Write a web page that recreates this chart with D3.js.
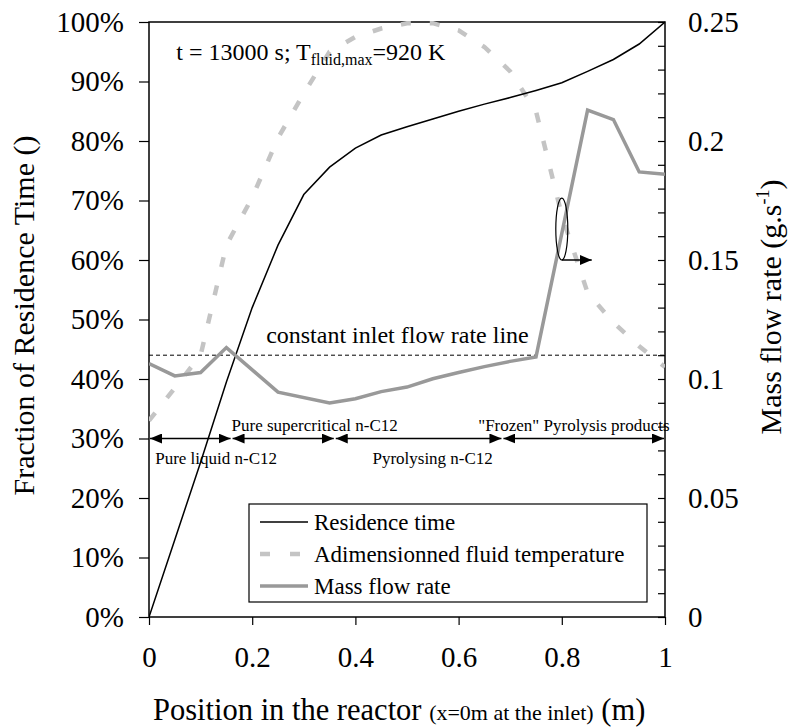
<!DOCTYPE html>
<html>
<head>
<meta charset="utf-8">
<script src="https://cdn.jsdelivr.net/npm/d3@7"></script>
<style>
  body { margin: 0; background: #fff; }
  svg text { font-family: "Liberation Serif", "Times New Roman", serif; fill: #000; }
</style>
</head>
<body>
<svg id="chart" width="795" height="727"></svg>
<script>
// position along the reactor (m)
const positions = [0, 0.05, 0.1, 0.15, 0.2, 0.25, 0.3, 0.35, 0.4, 0.45, 0.5,
                   0.55, 0.6, 0.65, 0.7, 0.75, 0.8, 0.85, 0.9, 0.95, 1];
// fraction of residence time (left axis)
const residenceTime = [0, 0.13, 0.26, 0.395, 0.52, 0.625, 0.71, 0.756, 0.788, 0.81, 0.824,
                       0.837, 0.85, 0.862, 0.873, 0.885, 0.898, 0.917, 0.937, 0.963, 1];
// adimensionned fluid temperature (left axis)
const fluidTemp = [0.33, 0.385, 0.44, 0.625, 0.705, 0.805, 0.88, 0.95, 0.975, 0.989, 0.998,
                   0.998, 0.986, 0.958, 0.917, 0.85, 0.675, 0.545, 0.495, 0.455, 0.42];
// mass flow rate (right axis, g/s)
const flowPositions = [0, 0.05, 0.1, 0.15, 0.25, 0.35, 0.4, 0.45, 0.5, 0.55, 0.6,
                       0.65, 0.7, 0.75, 0.85, 0.9, 0.95, 1];
const massFlow = [0.1065, 0.1013, 0.1027, 0.1132, 0.0945, 0.0899, 0.0917, 0.0947, 0.0966, 0.1001, 0.1027,
                  0.1052, 0.1074, 0.1093, 0.213, 0.209, 0.187, 0.186];
const inletFlow = 0.11;

// regions along the reactor
const regionBounds = [0, 0.16, 0.36, 0.685, 1];
const regionLabels = ["Pure liquid n-C12", "Pure supercritical n-C12", "Pyrolysing n-C12", "\"Frozen\" Pyrolysis products"];
const regionLabelX = [0.012, 0.16, 0.433, 0.638];
const regionLabelAbove = [false, true, false, true];

const xTicks = [0, 0.2, 0.4, 0.6, 0.8, 1];
const leftTicks = [0, 0.1, 0.2, 0.3, 0.4, 0.5, 0.6, 0.7, 0.8, 0.9, 1];
const rightTicks = d3.range(0, 26).map(i => i / 100);

const legendItems = ["Residence time", "Adimensionned fluid temperature", "Mass flow rate"];

const margin = {left: 149, right: 130, top: 22, bottom: 110};
const W = 795, H = 727;

const svg = d3.select("#chart");
const x = d3.scaleLinear().domain([0, 1]).range([margin.left, W - margin.right]);
const yL = d3.scaleLinear().domain([0, 1]).range([H - margin.bottom, margin.top]);
const yR = d3.scaleLinear().domain([0, 0.25]).range([H - margin.bottom, margin.top]);

// arrow head marker
const defs = svg.append("defs");
defs.append("marker")
  .attr("id", "head")
  .attr("viewBox", "0 0 12 10")
  .attr("refX", 12).attr("refY", 5)
  .attr("markerWidth", 12).attr("markerHeight", 10)
  .attr("markerUnits", "userSpaceOnUse")
  .attr("orient", "auto-start-reverse")
  .append("path").attr("d", "M0,0 L12,5 L0,10 Z").attr("fill", "#000");

defs.append("clipPath").attr("id", "plotclip")
  .append("rect")
  .attr("x", x(0)).attr("y", yL(1) - 3)
  .attr("width", x(1) - x(0)).attr("height", yL(0) - yL(1) + 3);

// axes
const leftAxis = svg.append("g")
  .attr("transform", `translate(${x(0)},0)`)
  .call(d3.axisLeft(yL).tickValues(leftTicks).tickFormat(d3.format(".0%")).tickSize(10).tickPadding(15));
const rightAxis = svg.append("g")
  .attr("transform", `translate(${x(1)},0)`)
  .call(d3.axisRight(yR).tickValues(rightTicks).tickSize(-7).tickPadding(23)
    .tickFormat(d => Math.round(d * 100) % 5 === 0 ? String(+d.toFixed(2)) : ""));
const bottomAxis = svg.append("g")
  .attr("transform", `translate(0,${yL(0)})`)
  .call(d3.axisBottom(x).tickValues(xTicks).tickFormat(d3.format("~g")).tickSize(8).tickPadding(21));

[leftAxis, rightAxis, bottomAxis].forEach(g => {
  g.select(".domain").remove();
  g.selectAll("line").attr("stroke", "#000").attr("stroke-width", 1.2);
  g.selectAll("text").attr("font-size", 29).attr("font-family", "Liberation Serif");
});

// frame
svg.append("rect")
  .attr("x", x(0)).attr("y", yL(1))
  .attr("width", x(1) - x(0)).attr("height", yL(0) - yL(1))
  .attr("fill", "none").attr("stroke", "#000").attr("stroke-width", 1.5);

const plot = svg.append("g").attr("clip-path", "url(#plotclip)");

// constant inlet flow rate line
plot.append("line")
  .attr("x1", x(0)).attr("x2", x(1))
  .attr("y1", yR(inletFlow)).attr("y2", yR(inletFlow))
  .attr("stroke", "#000").attr("stroke-width", 1).attr("stroke-dasharray", "4,3");

const lineL = (xs, ys) => d3.line().x((d, i) => x(xs[i])).y(d => yL(d))(ys);
const lineR = (xs, ys) => d3.line().x((d, i) => x(xs[i])).y(d => yR(d))(ys);

plot.append("path")
  .attr("d", lineL(positions, fluidTemp))
  .attr("fill", "none").attr("stroke", "#c4c4c4").attr("stroke-width", 4.5)
  .attr("stroke-dasharray", "10,19");

plot.append("path")
  .attr("d", lineL(positions, residenceTime))
  .attr("fill", "none").attr("stroke", "#000").attr("stroke-width", 1.5);

plot.append("path")
  .attr("d", lineR(flowPositions, massFlow))
  .attr("fill", "none").attr("stroke", "#999").attr("stroke-width", 3.5)
  .attr("stroke-linejoin", "miter");

// region arrows at the 30% level
const regionY = yL(0.3);
regionLabels.forEach((label, i) => {
  svg.append("line")
    .attr("x1", x(regionBounds[i]) + 1).attr("x2", x(regionBounds[i + 1]) - 1)
    .attr("y1", regionY).attr("y2", regionY)
    .attr("stroke", "#000").attr("stroke-width", 1.5)
    .attr("marker-start", "url(#head)").attr("marker-end", "url(#head)");
  svg.append("text")
    .attr("x", x(regionLabelX[i]))
    .attr("y", regionLabelAbove[i] ? regionY - 8 : regionY + 25)
    .attr("font-size", 17)
    .text(label);
});

svg.append("text")
  .attr("x", x(0.227)).attr("y", yR(0.115))
  .attr("font-size", 24)
  .text("constant inlet flow rate line");

// time / temperature note
const note = svg.append("text")
  .attr("x", x(0.053)).attr("y", yL(0.936))
  .attr("font-size", 24);
note.append("tspan").text("t = 13000 s; T");
note.append("tspan").attr("font-size", 16).attr("dy", 5).text("fluid,max");
note.append("tspan").attr("dy", -5).text("=920 K");

// ellipse + arrow pointing to the right axis
const ellX = 0.8, ellY = 0.163;
svg.append("ellipse")
  .attr("cx", x(ellX)).attr("cy", yR(ellY))
  .attr("rx", 6).attr("ry", yR(ellY - 0.013) - yR(ellY))
  .attr("fill", "none").attr("stroke", "#000").attr("stroke-width", 1.2);
svg.append("line")
  .attr("x1", x(ellX)).attr("x2", x(0.858))
  .attr("y1", yR(0.15)).attr("y2", yR(0.15))
  .attr("stroke", "#000").attr("stroke-width", 1.5)
  .attr("marker-end", "url(#head)");

// legend
const lg = svg.append("g");
lg.append("rect")
  .attr("x", 249).attr("y", 504).attr("width", 398).attr("height", 98)
  .attr("fill", "#fff").attr("stroke", "#000").attr("stroke-width", 1.2);
const legendStyles = [
  {stroke: "#000", width: 1.5, dash: null},
  {stroke: "#c4c4c4", width: 4.5, dash: "10,20"},
  {stroke: "#999", width: 3.5, dash: null}
];
legendItems.forEach((name, i) => {
  const yy = 522 + i * 32;
  lg.append("line")
    .attr("x1", 260).attr("x2", 308).attr("y1", yy).attr("y2", yy)
    .attr("stroke", legendStyles[i].stroke).attr("stroke-width", legendStyles[i].width)
    .attr("stroke-dasharray", legendStyles[i].dash);
  lg.append("text")
    .attr("x", 314).attr("y", yy).attr("dy", "0.33em")
    .attr("font-size", 23)
    .text(name);
});

// axis titles
svg.append("text")
  .attr("transform", `translate(34,${(yL(0) + yL(1)) / 2 - 4}) rotate(-90)`)
  .attr("text-anchor", "middle")
  .attr("font-size", 30)
  .text("Fraction of Residence Time ()");

const rt = svg.append("text")
  .attr("transform", `translate(781,307) rotate(-90)`)
  .attr("text-anchor", "middle")
  .attr("font-size", 30);
rt.append("tspan").text("Mass flow rate (g.s");
rt.append("tspan").attr("font-size", 18).attr("dy", -12).text("-1");
rt.append("tspan").attr("dy", 12).text(")");

const xt = svg.append("text")
  .attr("x", x(0) + 4).attr("y", 720)
  .attr("font-size", 30.5);
xt.append("tspan").text("Position in the reactor ");
xt.append("tspan").attr("font-size", 22).text("(x=0m at the inlet)");
xt.append("tspan").text(" (m)");
</script>
</body>
</html>
